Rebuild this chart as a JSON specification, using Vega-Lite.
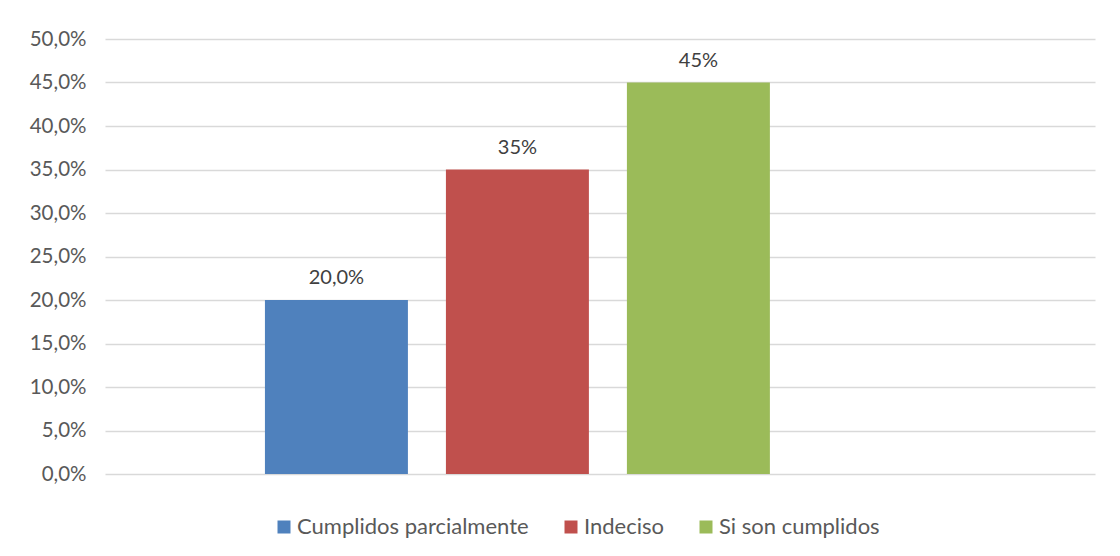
{
  "$schema": "https://vega.github.io/schema/vega-lite/v6.json",
  "width": 990,
  "height": 435,
  "autosize": "none",
  "padding": {"left": 105, "top": 39, "right": 25, "bottom": 82},
  "background": "white",
  "config": {
    "font": "Lato",
    "locale": {"number": {"decimal": ",", "thousands": ".", "grouping": [3], "currency": ["", " €"]}},
    "view": {"stroke": null}
  },
  "data": {
    "values": [
      {"categoria": "Cumplidos parcialmente", "valor": 0.20, "etiqueta": "20,0%"},
      {"categoria": "Indeciso", "valor": 0.35, "etiqueta": "35%"},
      {"categoria": "Si son cumplidos", "valor": 0.45, "etiqueta": "45%"}
    ]
  },
  "encoding": {
    "x": {
      "field": "categoria", "type": "nominal", "axis": null,
      "scale": {"domain": ["Cumplidos parcialmente", "Indeciso", "Si son cumplidos", "_"], "paddingInner": 0.21, "paddingOuter": 0.84, "align": 0.526}
    },
    "y": {
      "field": "valor", "type": "quantitative",
      "scale": {"domain": [0, 0.5]},
      "axis": {
        "title": null, "format": ".1%", "values": [0,0.05,0.1,0.15,0.2,0.25,0.3,0.35,0.4,0.45,0.5],
        "labelOverlap": false,
        "ticks": false, "domain": false, "gridColor": "#d9d9d9", "gridWidth": 1.3,
        "labelFontSize": 20.5, "labelColor": "#595959", "labelPadding": 19
      }
    }
  },
  "layer": [
    {
      "mark": {"type": "bar"},
      "encoding": {
        "color": {
          "field": "categoria", "type": "nominal",
          "sort": ["Cumplidos parcialmente", "Indeciso", "Si son cumplidos"],
          "scale": {"range": ["#4F81BD", "#C0504D", "#9BBB59"]},
          "legend": {
            "orient": "none", "legendX": 168, "legendY": 477, "direction": "horizontal", "title": null,
            "symbolType": "square", "symbolSize": 169, "symbolStrokeWidth": 0,
            "labelFontSize": 22, "labelColor": "#595959", "labelLimit": 400, "columnPadding": 31,
            "labelOffset": 2
          }
        }
      }
    },
    {
      "mark": {"type": "text", "baseline": "bottom", "dy": -12, "fontSize": 20, "color": "#404040"},
      "encoding": {"text": {"field": "etiqueta"}}
    }
  ]
}
